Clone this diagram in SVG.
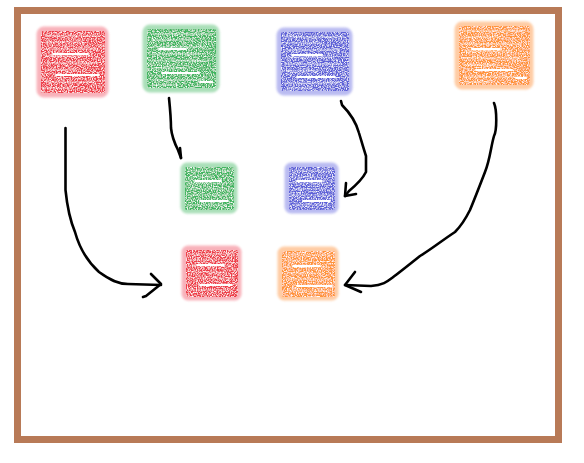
<svg xmlns="http://www.w3.org/2000/svg" width="584" height="463" viewBox="0 0 584 463">
  <style>
    .halo { stroke-width: 3; stroke-linejoin: round; opacity: 0.8; filter: url(#soft); }
    .core { filter: url(#grain); }
    .scrib { stroke: #ffffff; stroke-linecap: round; fill: none; }
    .wire { fill: none; stroke: #000000; stroke-width: 2.6; stroke-linecap: round; stroke-linejoin: round; }
    .red .halo { fill: #f7a0aa; stroke: #f7a0aa; } .red .core { fill: #ee3d4a; }
    .green .halo { fill: #96d8a8; stroke: #96d8a8; } .green .core { fill: #40b55e; }
    .blue .halo { fill: #a9abee; stroke: #a9abee; } .blue .core { fill: #5c5ed8; }
    .orange .halo { fill: #ffc08e; stroke: #ffc08e; } .orange .core { fill: #ff9438; }
  </style>
  <defs>
    <filter id="soft" x="-20%" y="-20%" width="140%" height="140%">
      <feGaussianBlur stdDeviation="0.9"/>
    </filter>
    <!-- crayon grain: speckle the fill with white noise -->
    <filter id="grain" x="0" y="0" width="100%" height="100%">
      <feTurbulence type="fractalNoise" baseFrequency="0.8" numOctaves="2" seed="7" result="n"/>
      <feColorMatrix in="n" type="matrix" values="0 0 0 0 1  0 0 0 0 1  0 0 0 0 1  0 0 0 -2.6 1.5" result="w"/>
      <feComposite in="w" in2="SourceAlpha" operator="in" result="wm"/>
      <feMerge><feMergeNode in="SourceGraphic"/><feMergeNode in="wm"/></feMerge>
    </filter>
  </defs>

  <!-- frame -->
  <rect x="17.5" y="10.5" width="541" height="429" fill="#ffffff" stroke="#b87a57" stroke-width="7"/>

  <!-- nodes -->
  <g id="n-red-top" class="red">
    <rect class="halo" x="38" y="28" width="69" height="68" rx="6"/>
    <rect class="core" x="41" y="31" width="64" height="62" rx="2"/>
    <path class="scrib" stroke-width="1.3" opacity="0.4" d="M45 36 H100 M46 42 H82 M44 49 H98 M47 56 H90 M45 63 H97 M46 70 H76 M45 82 H94 M47 88 H72"/>
    <path class="scrib" stroke-width="2" d="M53 54 H88 M56 75 H99"/>
  </g>
  <g id="n-green-top" class="green">
    <rect class="halo" x="144" y="26" width="74" height="65" rx="6"/>
    <rect class="core" x="147" y="29" width="69" height="59" rx="2"/>
    <path class="scrib" stroke-width="1.3" opacity="0.4" d="M151 34 H210 M152 40 H190 M150 47 H206 M153 54 H200 M151 61 H208 M152 68 H186 M151 80 H204 M153 85 H178"/>
    <path class="scrib" stroke-width="2" d="M159 49 H186 M162 73 H199 M200 82 H212"/>
  </g>
  <g id="n-blue-top" class="blue">
    <rect class="halo" x="278" y="29" width="73" height="65" rx="6"/>
    <rect class="core" x="281" y="32" width="68" height="59" rx="2"/>
    <path class="scrib" stroke-width="1.3" opacity="0.4" d="M285 37 H344 M286 43 H322 M284 50 H340 M287 57 H334 M285 64 H342 M286 71 H318 M285 83 H338 M287 88 H312"/>
    <path class="scrib" stroke-width="2" d="M292 55 H322 M297 77 H335"/>
  </g>
  <g id="n-orange-top" class="orange">
    <rect class="halo" x="456" y="23" width="76" height="65" rx="6"/>
    <rect class="core" x="459" y="26" width="71" height="59" rx="2"/>
    <path class="scrib" stroke-width="1.3" opacity="0.4" d="M463 31 H524 M464 37 H500 M462 44 H520 M465 51 H512 M463 58 H522 M464 65 H496 M463 77 H518 M465 82 H490"/>
    <path class="scrib" stroke-width="2" d="M472 49 H500 M476 70 H512 M516 78 H526"/>
  </g>
  <g id="n-green-mid" class="green">
    <rect class="halo" x="182" y="164" width="54" height="48" rx="5"/>
    <rect class="core" x="185" y="167" width="49" height="43" rx="2"/>
    <path class="scrib" stroke-width="1.2" opacity="0.4" d="M188 171 H230 M189 177 H214 M187 183 H228 M190 189 H222 M188 195 H229 M190 205 H226"/>
    <path class="scrib" stroke-width="1.8" d="M195 181 H221 M200 201 H228"/>
  </g>
  <g id="n-blue-mid" class="blue">
    <rect class="halo" x="286" y="164" width="51" height="48" rx="5"/>
    <rect class="core" x="289" y="167" width="46" height="43" rx="2"/>
    <path class="scrib" stroke-width="1.2" opacity="0.4" d="M292 171 H331 M293 177 H316 M291 183 H330 M294 189 H324 M292 195 H330 M294 205 H328"/>
    <path class="scrib" stroke-width="1.8" d="M297 181 H322 M303 201 H330"/>
  </g>
  <g id="n-red-bot" class="red">
    <rect class="halo" x="183" y="247" width="57" height="52" rx="5"/>
    <rect class="core" x="186" y="250" width="52" height="47" rx="2"/>
    <path class="scrib" stroke-width="1.2" opacity="0.4" d="M189 254 H234 M190 260 H216 M188 266 H232 M191 272 H226 M189 278 H233 M191 290 H230"/>
    <path class="scrib" stroke-width="1.8" d="M197 265 H224 M200 285 H232"/>
  </g>
  <g id="n-orange-bot" class="orange">
    <rect class="halo" x="279" y="248" width="58" height="51" rx="5"/>
    <rect class="core" x="282" y="251" width="53" height="46" rx="2"/>
    <path class="scrib" stroke-width="1.2" opacity="0.4" d="M285 255 H331 M286 261 H312 M284 267 H329 M287 273 H322 M285 279 H330 M287 291 H328"/>
    <path class="scrib" stroke-width="1.8" d="M293 266 H320 M297 286 H332"/>
  </g>

  <!-- connectors -->
  <g id="connectors">
    <path class="wire" d="M65.5 128 L65.5 190 C67 205 70 220 75 232 C80 250 88 262 99 272 C110 280 118 284 128 284 L161 285"/>
    <path class="wire" d="M151 274 L161 284 L146 296 L143 297"/>
    <path class="wire" d="M169 98 C170 108 171 118 171 128 C172 138 175 144 178 150 L181 158"/>
    <path class="wire" d="M180 148 L181 158"/>
    <path class="wire" d="M341 101 L342 105 C350 113 356 122 359 133 C362 143 364 150 366 156 L366 172 C362 180 355 186 349 191 L345 196"/>
    <path class="wire" d="M346 183 L345 196 L356 194"/>
    <path class="wire" d="M494 103 C497 110 497 130 494 136 C491 146 490 160 485 172 C480 185 475 198 470 210 C465 220 460 227 455 232 C440 242 430 250 420 256 C410 264 400 272 392 278 C388 281 384 285 371 286 L345 285"/>
    <path class="wire" d="M355 272 L345 285 L361 292"/>
  </g>
</svg>
